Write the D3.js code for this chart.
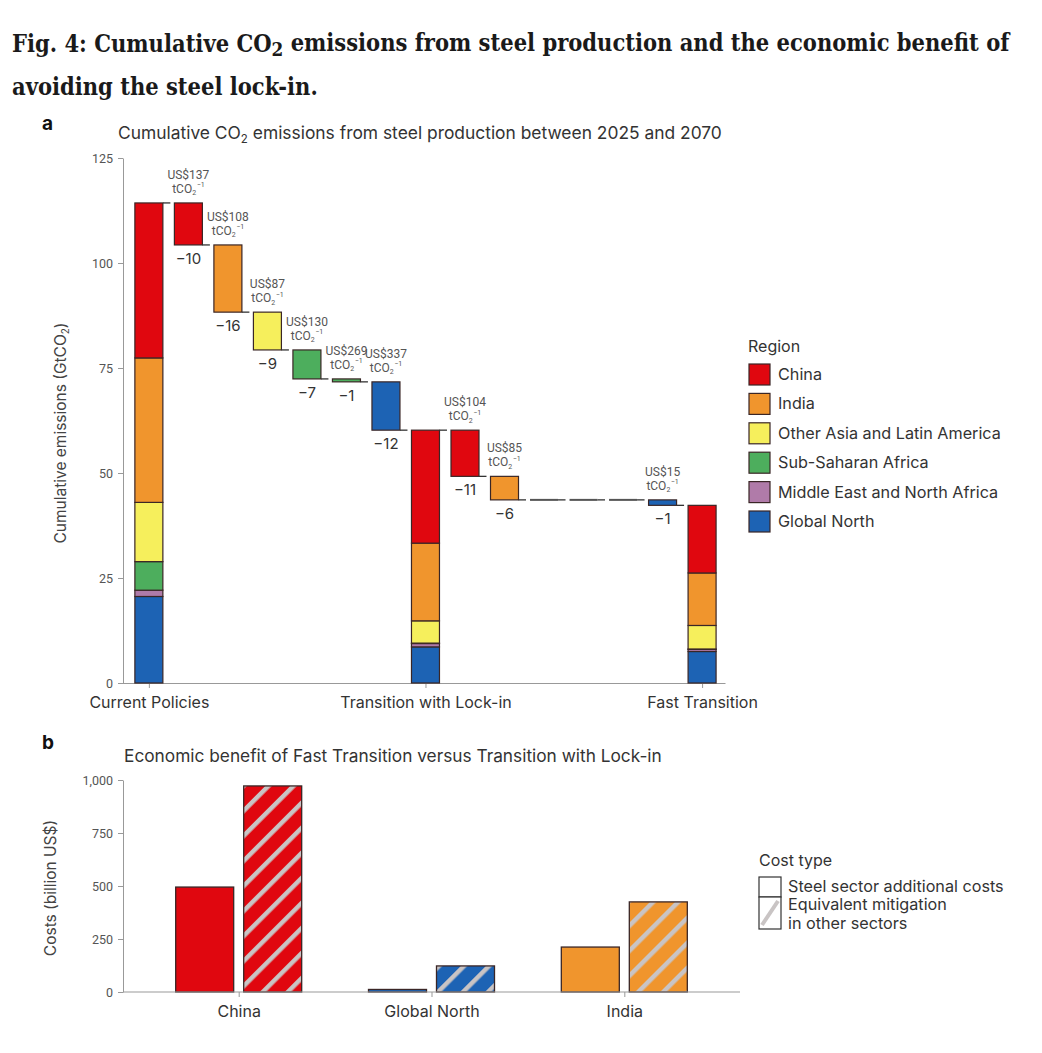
<!DOCTYPE html>
<html>
<head>
<meta charset="utf-8">
<script src="https://cdn.jsdelivr.net/npm/d3@7"></script>
<style>
  body { margin: 0; background: #fff; }
  svg { display: block; }
  text { font-family: Inter, "Noto Sans", sans-serif; fill: #333; }
</style>
</head>
<body>
<svg id="fig" width="1042" height="1053"></svg>
<script>
// ---- data ----
const regions = ["China", "India", "Other Asia and Latin America", "Sub-Saharan Africa",
                 "Middle East and North Africa", "Global North"];
const regionColors = ["#e0070f", "#f0952d", "#f6ef5c", "#4dae5d", "#b07ba9", "#1d63b4"];

const scenarios = ["Current Policies", "Transition with Lock-in", "Fast Transition"];
// emissions by region (same order as regions), GtCO2
const currentPolicies = [36.9, 34.4, 14.1, 6.8, 1.5, 20.6];
const lockIn          = [26.9, 18.5, 5.3, 0.1, 0.8, 8.6];
const fastTransition  = [16.1, 12.5, 5.6, 0.1, 0.5, 7.5];

// steps Current Policies -> Transition with Lock-in
const steps1Region = ["China", "India", "Other Asia and Latin America", "Sub-Saharan Africa",
                      "Sub-Saharan Africa", "Global North"];
const steps1Delta  = [-10, -16, -9, -6.9, -0.7, -11.5];
const steps1Cost   = [137, 108, 87, 130, 269, 337];
// steps Transition with Lock-in -> Fast Transition
const steps2Region = ["China", "India", "Other Asia and Latin America", "Sub-Saharan Africa",
                      "Middle East and North Africa", "Global North"];
const steps2Delta  = [-11, -5.6, 0, 0, 0, -1.3];
const steps2Cost   = [104, 85, null, null, null, 15];

const emissionTicks = [0, 25, 50, 75, 100, 125];

// panel b
const costRegions = ["China", "Global North", "India"];
const costTypes = ["Steel sector additional costs", "Equivalent mitigation in other sectors"];
const steelCosts = [495, 12, 212];
const otherSectorCosts = [972, 123, 425];
const costTicks = [0, 250, 500, 750, 1000];

// ---- setup ----
const svg = d3.select("#fig");
const color = d3.scaleOrdinal().domain(regions).range(regionColors);
const outline = "#3a2626";
const fmtDelta = d3.format(".0f");

// figure title, fitted to width
const titleFont = "'DejaVu Serif Condensed', 'DejaVu Serif', serif";
function titleLine(y, parts) {
  const t = svg.append("text").attr("x", 12).attr("y", y)
    .style("font-family", titleFont).style("font-weight", "bold").style("fill", "#1a1a1a");
  parts.forEach(p => {
    const ts = t.append("tspan").text(p.t).style("fill", "#1a1a1a");
    if (p.sub) ts.attr("font-size", "0.8em").attr("dy", "0.22em");
    if (p.after) ts.attr("dy", "-0.22em");
  });
  return t;
}
const l1 = titleLine(52, [{t: "Fig. 4: Cumulative CO"}, {t: "2", sub: true},
  {t: " emissions from steel production and the economic benefit of", after: true}]);
const l2 = titleLine(95, [{t: "avoiding the steel lock-in."}]);
l1.attr("font-size", 22); l2.attr("font-size", 22);
const w1 = l1.node().getComputedTextLength();
const fs = 22 * 998 / w1;
l1.attr("font-size", fs); l2.attr("font-size", fs);

// ============ panel a ============
const x = d3.scaleLinear().domain([-0.68, 14.58]).range([122, 725]);
const y = d3.scaleLinear().domain([0, 125]).range([683, 158]);
const barW = 28;

svg.append("text").attr("x", 42).attr("y", 130).text("a")
  .attr("font-size", 19).attr("font-weight", "bold").style("fill", "#111");
const ta = svg.append("text").attr("x", 118).attr("y", 139).attr("font-size", 17.4);
ta.append("tspan").text("Cumulative CO");
ta.append("tspan").text("2").attr("font-size", 11.5).attr("dy", 4);
ta.append("tspan").text(" emissions from steel production between 2025 and 2070").attr("dy", -4);

// axes
const yAxisA = svg.append("g").attr("transform", "translate(123,0)")
  .call(d3.axisLeft(y).tickValues(emissionTicks).tickSize(5).tickSizeOuter(0).tickPadding(5));
const xAxisA = svg.append("g").attr("transform", "translate(0,683)")
  .call(d3.axisBottom(x).tickValues([0, 7, 14]).tickFormat((d, i) => scenarios[i])
    .tickSize(5).tickSizeOuter(0).tickPadding(9));
[yAxisA, xAxisA].forEach(g => {
  g.select(".domain").attr("stroke", "#999");
  g.selectAll(".tick line").attr("stroke", "#999");
});
yAxisA.selectAll(".tick text").attr("font-size", 12.5).style("fill", "#555")
  .style("font-family", "Roboto, sans-serif");
xAxisA.selectAll(".tick text").attr("font-size", 16).style("fill", "#333");

const ylab = svg.append("text").attr("transform", "translate(66,433) rotate(-90)")
  .attr("text-anchor", "middle").attr("font-size", 15.5).style("fill", "#444");
ylab.append("tspan").text("Cumulative emissions (GtCO");
ylab.append("tspan").text("2").attr("font-size", 10).attr("dy", 3);
ylab.append("tspan").text(")").attr("dy", -3);

// stacked scenario bars (bottom: Global North ... top: China)
const stackOrder = regions.slice().reverse();
const scenarioData = [currentPolicies, lockIn, fastTransition];
const scenarioSlot = [0, 7, 14];
const plotA = svg.append("g");
scenarioData.forEach((vals, si) => {
  let base = 0;
  const segs = stackOrder.map(r => {
    const v = vals[regions.indexOf(r)];
    const s = {r, y0: base, y1: base + v};
    base += v;
    return s;
  });
  plotA.append("g").selectAll("rect").data(segs).join("rect")
    .attr("x", x(scenarioSlot[si]) - barW / 2).attr("width", barW)
    .attr("y", d => y(d.y1)).attr("height", d => y(d.y0) - y(d.y1))
    .attr("fill", d => color(d.r)).attr("stroke", outline).attr("stroke-width", 1.2);
});

// waterfall steps
const steps = [];
let level = d3.sum(currentPolicies);
steps1Delta.forEach((d, i) => {
  steps.push({slot: i + 1, region: steps1Region[i], start: level, end: level + d, delta: d, cost: steps1Cost[i]});
  level += d;
});
level = d3.sum(lockIn);
steps2Delta.forEach((d, i) => {
  steps.push({slot: i + 8, region: steps2Region[i], start: level, end: level + d, delta: d, cost: steps2Cost[i]});
  level += d;
});

const stepG = plotA.append("g");
steps.filter(s => s.delta !== 0).forEach(s => {
  stepG.append("rect")
    .attr("x", x(s.slot) - barW / 2).attr("width", barW)
    .attr("y", y(s.start)).attr("height", y(s.end) - y(s.start))
    .attr("fill", color(s.region)).attr("stroke", outline).attr("stroke-width", 1.2);
});
// zero steps as flat marks
steps.filter(s => s.delta === 0).forEach(s => {
  stepG.append("line")
    .attr("x1", x(s.slot) - barW / 2).attr("x2", x(s.slot) + barW / 2)
    .attr("y1", y(s.end)).attr("y2", y(s.end))
    .attr("stroke", "#555").attr("stroke-width", 2);
});

// connectors from each bar at its end level
const connectors = [{slot: 0, v: d3.sum(currentPolicies)}, {slot: 7, v: d3.sum(lockIn)}]
  .concat(steps.map(s => ({slot: s.slot, v: s.end})));
stepG.selectAll("line.conn").data(connectors).join("line").attr("class", "conn")
  .attr("x1", d => x(d.slot) + barW / 2).attr("x2", d => x(d.slot) + barW / 2 + 7.5)
  .attr("y1", d => y(d.v)).attr("y2", d => y(d.v))
  .attr("stroke", "#333").attr("stroke-width", 1.3);

// delta labels below steps
stepG.selectAll("text.delta").data(steps.filter(s => s.delta !== 0)).join("text")
  .attr("class", "delta")
  .attr("x", d => x(d.slot)).attr("y", d => y(d.end) + 19)
  .attr("text-anchor", "middle").attr("font-size", 15).style("fill", "#333")
  .text(d => fmtDelta(d.delta));

// cost labels above steps
steps.filter(s => s.cost !== null).forEach(s => {
  const g = stepG.append("g").attr("transform", `translate(${x(s.slot)},${y(s.start)})`);
  g.append("text").attr("y", -24).attr("text-anchor", "middle").attr("font-size", 12)
    .style("fill", "#555").style("font-family", "Roboto, sans-serif").text(`US$${s.cost}`);
  const t = g.append("text").attr("y", -10).attr("text-anchor", "middle").attr("font-size", 12)
    .style("fill", "#555").style("font-family", "Roboto, sans-serif");
  t.append("tspan").text("tCO");
  t.append("tspan").text("2").attr("font-size", 7).attr("dy", 2.5);
  t.append("tspan").text("\u22121").attr("font-size", 7).attr("dy", -8).attr("dx", 0.5);
});

// region legend
const legA = svg.append("g").attr("transform", "translate(749,0)");
legA.append("text").attr("x", -1).attr("y", 352).attr("font-size", 16).text("Region");
legA.selectAll("rect").data(regions).join("rect")
  .attr("x", 0).attr("y", (d, i) => 364 + i * 29.4).attr("width", 21).attr("height", 21)
  .attr("fill", d => color(d)).attr("stroke", outline).attr("stroke-width", 1.2);
legA.selectAll("text.lab").data(regions).join("text").attr("class", "lab")
  .attr("x", 29).attr("y", (d, i) => 380 + i * 29.4).attr("font-size", 16.2).text(d => d);

// ============ panel b ============
const xb = d3.scalePoint().domain(costRegions).range([123, 740]).padding(0.6);
const sub = d3.scaleBand().domain(costTypes).range([-63, 63]).paddingInner(0.147);
const yb = d3.scaleLinear().domain([0, 1000]).range([992, 780]);

svg.append("text").attr("x", 42).attr("y", 749).text("b")
  .attr("font-size", 19).attr("font-weight", "bold").style("fill", "#111");
svg.append("text").attr("x", 124).attr("y", 762).attr("font-size", 17.3)
  .text("Economic benefit of Fast Transition versus Transition with Lock-in");

const defs = svg.append("defs");
costRegions.forEach((r, i) => {
  const p = defs.append("pattern").attr("id", "hatch" + i)
    .attr("patternUnits", "userSpaceOnUse").attr("width", 17.7).attr("height", 17.7)
    .attr("patternTransform", "rotate(45)");
  p.append("rect").attr("width", 17.7).attr("height", 17.7).attr("fill", color(r));
  p.append("rect").attr("x", 0).attr("width", 4.5).attr("height", 17.7).attr("fill", "#c9c4c4");
});

const plotB = svg.append("g");
costRegions.forEach((r, i) => {
  const cx = xb(r);
  plotB.append("rect")
    .attr("x", cx + sub(costTypes[0])).attr("width", sub.bandwidth())
    .attr("y", yb(steelCosts[i])).attr("height", yb(0) - yb(steelCosts[i]))
    .attr("fill", color(r)).attr("stroke", outline).attr("stroke-width", 1.3);
  plotB.append("rect")
    .attr("x", cx + sub(costTypes[1])).attr("width", sub.bandwidth())
    .attr("y", yb(otherSectorCosts[i])).attr("height", yb(0) - yb(otherSectorCosts[i]))
    .attr("fill", `url(#hatch${i})`).attr("stroke", outline).attr("stroke-width", 1.3);
});

const yAxisB = svg.append("g").attr("transform", "translate(123,0)")
  .call(d3.axisLeft(yb).tickValues(costTicks).tickFormat(d3.format(",")).tickSize(5)
    .tickSizeOuter(0).tickPadding(5));
const xAxisB = svg.append("g").attr("transform", "translate(0,992)")
  .call(d3.axisBottom(xb).tickSize(5).tickSizeOuter(0).tickPadding(9));
xAxisB.select(".domain").attr("d", "M123,0H740");
[yAxisB, xAxisB].forEach(g => {
  g.select(".domain").attr("stroke", "#999");
  g.selectAll(".tick line").attr("stroke", "#999");
});
yAxisB.selectAll(".tick text").attr("font-size", 12.5).style("fill", "#555")
  .style("font-family", "Roboto, sans-serif");
xAxisB.selectAll(".tick text").attr("font-size", 16).style("fill", "#333");

svg.append("text").attr("transform", "translate(56,888) rotate(-90)")
  .attr("text-anchor", "middle").attr("font-size", 15.5).style("fill", "#444")
  .text("Costs (billion US$)");

// cost type legend
const legB = svg.append("g").attr("transform", "translate(759,0)");
legB.append("text").attr("x", 0).attr("y", 866).attr("font-size", 16).text("Cost type");
legB.append("rect").attr("x", 0).attr("y", 877).attr("width", 22).attr("height", 20)
  .attr("fill", "#fff").attr("stroke", "#333").attr("stroke-width", 1.2);
legB.append("rect").attr("x", 0).attr("y", 897).attr("width", 22).attr("height", 32)
  .attr("fill", "#fff").attr("stroke", "#333").attr("stroke-width", 1.2);
legB.append("line").attr("x1", 3).attr("y1", 925).attr("x2", 19).attr("y2", 901)
  .attr("stroke", "#c9c4c4").attr("stroke-width", 4);
legB.append("text").attr("x", 29).attr("y", 892).attr("font-size", 16.2)
  .text("Steel sector additional costs");
legB.append("text").attr("x", 29).attr("y", 910).attr("font-size", 16.2)
  .text("Equivalent mitigation");
legB.append("text").attr("x", 29).attr("y", 929).attr("font-size", 16.2)
  .text("in other sectors");
</script>
</body>
</html>
